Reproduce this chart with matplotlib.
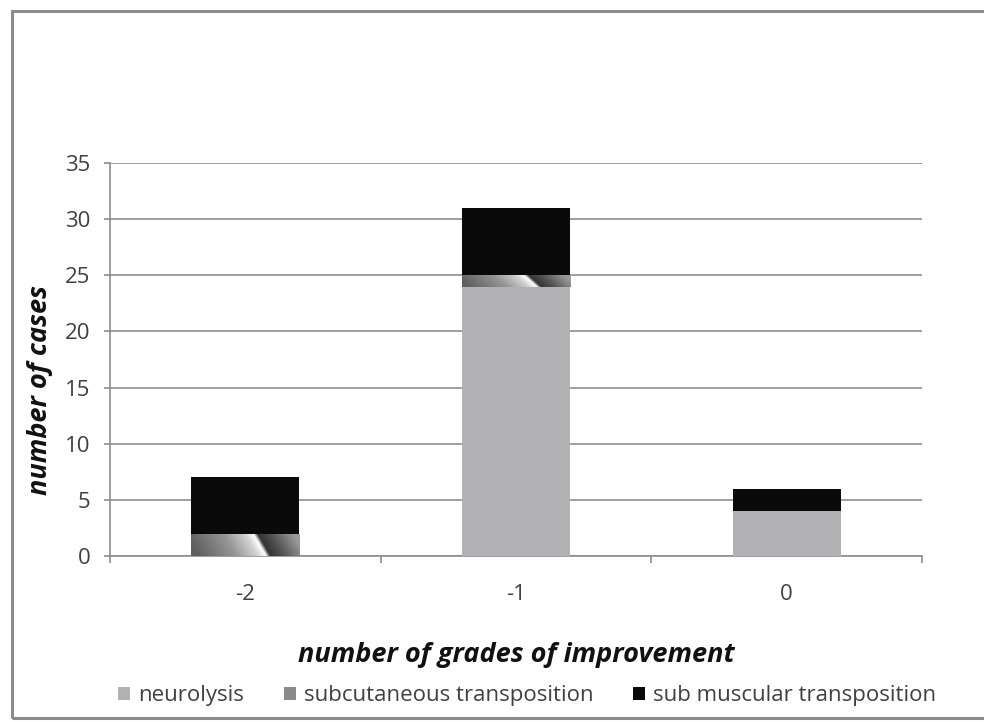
import numpy as np
import matplotlib
matplotlib.use("Agg")
import matplotlib.pyplot as plt
from matplotlib.patches import Rectangle, Patch
from matplotlib.colors import LinearSegmentedColormap

categories = ["-2", "-1", "0"]
neurolysis = [0, 24, 4]
subcutaneous = [2, 1, 0]
submuscular = [5, 6, 2]
yticks = [0, 5, 10, 15, 20, 25, 30, 35]
series_names = ["neurolysis", "subcutaneous transposition", "sub muscular transposition"]

plt.rcParams['font.family'] = ['Open Sans', 'DejaVu Sans']

W, H = 984, 722
fig = plt.figure(figsize=(W / 100, H / 100), dpi=100)
fig.patch.set_facecolor("white")

# outer frame
fig.add_artist(Rectangle((12 / W, 4 / H), 1.2, (711 - 4) / H, transform=fig.transFigure,
                         fill=False, edgecolor="#8c8c8c", linewidth=2.2))

ax = fig.add_axes([110 / W, (H - 556) / H, (922 - 110) / W, (556 - 163) / H])
ax.set_facecolor("white")

x = np.arange(len(categories))
bw = 0.4
c_neuro = "#b2b2b4"
c_sub = "#0a0a0a"

b1 = ax.bar(x, neurolysis, bw, color=c_neuro, zorder=3)
b2 = ax.bar(x, subcutaneous, bw, bottom=neurolysis, color="#8a8a8a", zorder=3)
bottom3 = [a + b for a, b in zip(neurolysis, subcutaneous)]
b3 = ax.bar(x, submuscular, bw, bottom=bottom3, color=c_sub, zorder=3)

# metallic gradient for subcutaneous bars
grad_cmap = LinearSegmentedColormap.from_list(
    "metal", [(0.0, "#5e5e5e"), (0.35, "#959595"), (0.55, "#d0d0d0"),
              (0.63, "#ffffff"), (0.67, "#333333"), (0.8, "#555555"), (1.0, "#9a9a9a")])
nx, ny = 200, 40
gx, gy = np.meshgrid(np.linspace(0, 1, nx), np.linspace(0, 1, ny))
gval = np.clip(gx + 0.12 * (gy - 0.5), 0, 1)
for p in b2.patches:
    if p.get_height() <= 0:
        continue
    x0, y0 = p.get_x(), p.get_y()
    im = ax.imshow(gval, cmap=grad_cmap, extent=[x0, x0 + p.get_width(), y0, y0 + p.get_height()],
                   origin="lower", aspect="auto", zorder=3.5, interpolation="bilinear")
    im.set_clip_path(p)

ax.set_xlim(-0.5, 2.5)
ax.set_ylim(0, 35)
ax.set_yticks(yticks)
ax.set_yticklabels([str(v) for v in yticks])
ax.yaxis.grid(True, color="#8e8e8e", linewidth=1.2, zorder=0)
ax.set_axisbelow(True)

ax.set_xticks([-0.5, 0.5, 1.5, 2.5])
ax.set_xticklabels([])
ax.set_xticks(x, minor=True)
ax.set_xticklabels(categories, minor=True)
ax.tick_params(axis="x", which="major", length=5, color="#8e8e8e", width=1.2, direction="out")
ax.tick_params(axis="x", which="minor", length=0, pad=20, labelsize=16, labelcolor="#404040")
ax.tick_params(axis="y", length=4, color="#8e8e8e", width=1.2, pad=10, labelsize=16,
               labelcolor="#404040")

for s in ["top", "right"]:
    ax.spines[s].set_visible(False)
for s in ["left", "bottom"]:
    ax.spines[s].set_color("#8e8e8e")
    ax.spines[s].set_linewidth(1.2)

ax.set_ylabel("number of cases", fontsize=19.5, fontweight="bold", fontstyle="italic",
              color="#111111")
ax.yaxis.set_label_coords(-0.070, 0.422)
fig.text(516 / W, 1 - 655 / H, "number of grades of improvement", fontsize=19.5,
         fontweight="bold", fontstyle="italic", color="#111111", ha="center", va="center")

handles = [Patch(facecolor=c_neuro, edgecolor="none"),
           Patch(facecolor="#8a8a8a", edgecolor="none"),
           Patch(facecolor=c_sub, edgecolor="none")]
leg = fig.legend(handles, series_names, loc="center", bbox_to_anchor=(527 / W, 1 - 696 / H),
                 ncol=3, frameon=False, fontsize=16, handlelength=0.55, handleheight=0.55,
                 handletextpad=0.35, columnspacing=1.8)
for t in leg.get_texts():
    t.set_color("#404040")

fig.savefig("out.png", dpi=100, facecolor="white")
